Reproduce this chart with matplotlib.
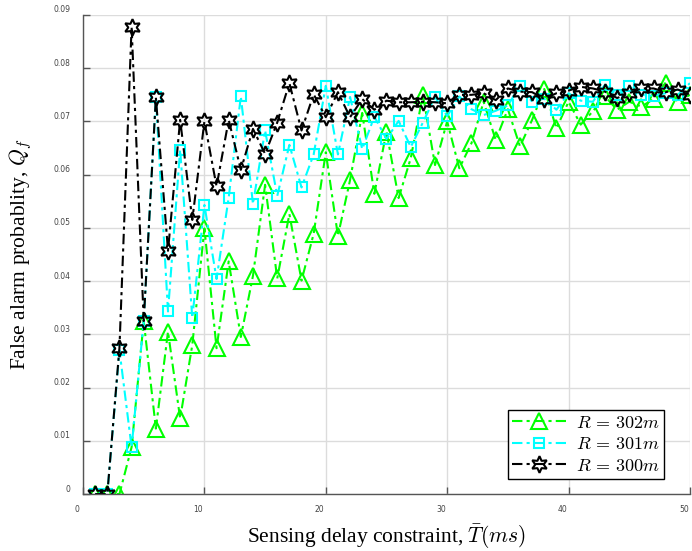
import matplotlib
matplotlib.use('Agg')
import matplotlib.pyplot as plt
import matplotlib.transforms as mtransforms

plt.rcParams['font.family'] = 'serif'
plt.rcParams['font.serif'] = ['Liberation Serif', 'DejaVu Serif']
plt.rcParams['mathtext.fontset'] = 'cm'

delay = list(range(1, 51))

r302 = [0.0, 0.0, 0.0, 0.0088, 0.0325, 0.0123, 0.0305, 0.0142, 0.028, 0.0499,
        0.0274, 0.0437, 0.0295, 0.041, 0.0581, 0.0405, 0.0526, 0.0401, 0.0489, 0.0642,
        0.0485, 0.059, 0.0716, 0.0564, 0.0681, 0.0556, 0.0631, 0.075, 0.0618, 0.07,
        0.0612, 0.0659, 0.0737, 0.0665, 0.0723, 0.0653, 0.0703, 0.0761, 0.0687, 0.0737,
        0.0694, 0.0719, 0.0747, 0.0722, 0.0737, 0.0728, 0.0742, 0.0773, 0.0737, 0.075]

r301 = [0.0, 0.0, 0.027, 0.0088, 0.0325, 0.0745, 0.0343, 0.0647, 0.0331, 0.0543,
        0.0404, 0.0557, 0.0747, 0.0545, 0.0683, 0.056, 0.0656, 0.0576, 0.0638, 0.0767,
        0.0638, 0.0746, 0.0648, 0.0709, 0.0667, 0.0701, 0.0652, 0.0698, 0.0746, 0.071,
        0.0747, 0.0723, 0.0712, 0.072, 0.073, 0.0767, 0.0737, 0.0743, 0.0722, 0.0753,
        0.0739, 0.0737, 0.0769, 0.075, 0.0766, 0.075, 0.0748, 0.0753, 0.075, 0.0772]

r300 = [0.0, 0.0, 0.0275, 0.0878, 0.0325, 0.0745, 0.0457, 0.0703, 0.0515, 0.07,
        0.0578, 0.0703, 0.0609, 0.0686, 0.0639, 0.0698, 0.0772, 0.0683, 0.0751, 0.0708,
        0.0755, 0.0708, 0.0742, 0.0722, 0.0739, 0.0736, 0.0736, 0.0737, 0.0736, 0.0734,
        0.075, 0.075, 0.0753, 0.074, 0.0762, 0.0756, 0.0755, 0.0742, 0.0753, 0.0758,
        0.0765, 0.0762, 0.0756, 0.0744, 0.0753, 0.0762, 0.0762, 0.0755, 0.076, 0.075]

fig = plt.figure(figsize=(6.92, 5.51), dpi=100)
ax = fig.add_axes([0.12, 0.1034, 0.877, 0.8694])

dashdot = (0, (5, 2, 1.5, 2))
ax.plot(delay, r302, color=(0, 1, 0), linestyle=dashdot, linewidth=1.5,
        marker='^', markersize=11, markerfacecolor='none', markeredgewidth=1.5,
        label=r'$R\,=\,302m$')
ax.plot(delay, r301, color=(0, 1, 1), linestyle=dashdot, linewidth=1.5,
        marker='s', markersize=7.5, markerfacecolor='none', markeredgewidth=1.5,
        label=r'$R\,=\,301m$')
ax.plot(delay, r300, color='black', linestyle=dashdot, linewidth=1.5,
        marker=(6, 1, 0), markersize=12, markerfacecolor='none', markeredgewidth=1.5,
        label=r'$R\,=\,300m$')

ax.set_xlim(0, 50)
ax.set_ylim(0, 0.09)
ax.set_xticks([0, 10, 20, 30, 40, 50])
ax.set_yticks([0, 0.01, 0.02, 0.03, 0.04, 0.05, 0.06, 0.07, 0.08, 0.09])
ax.set_yticklabels(['0', '0.01', '0.02', '0.03', '0.04', '0.05', '0.06', '0.07', '0.08', '0.09'])
ax.grid(True, color='#dcdcdc', linewidth=1)
ax.set_axisbelow(True)

for s in ['top', 'right']:
    ax.spines[s].set_visible(False)
for s in ['left', 'bottom']:
    ax.spines[s].set_color('#555555')
    ax.spines[s].set_linewidth(1)

ax.tick_params(direction='in', length=5, width=1, color='#555555',
               labelsize=5.5, labelcolor='#444444')
ax.tick_params(axis='x', pad=8)
ax.tick_params(axis='y', pad=9)
for lab in ax.get_xticklabels():
    lab.set_family('DejaVu Sans')
    lab.set_transform(lab.get_transform() + mtransforms.ScaledTranslation(-0.06, 0, fig.dpi_scale_trans))
for lab in ax.get_yticklabels():
    lab.set_family('DejaVu Sans')
    lab.set_transform(lab.get_transform() + mtransforms.ScaledTranslation(0, 0.06, fig.dpi_scale_trans))

ax.set_xlabel(r'Sensing delay constraint, $\bar{T}(ms)$', fontsize=15.5, labelpad=6)
ax.set_ylabel(r'False alarm probablity, $Q_f$', fontsize=15.5, labelpad=14)

leg = ax.legend(loc='lower right', bbox_to_anchor=(0.957, 0.031), borderaxespad=0,
                fontsize=13, handlelength=3.0, fancybox=False, framealpha=1,
                edgecolor='black', borderpad=0.25, labelspacing=0.25, handletextpad=0.5)
leg.get_frame().set_linewidth(1)

fig.savefig('out.png', dpi=100)
